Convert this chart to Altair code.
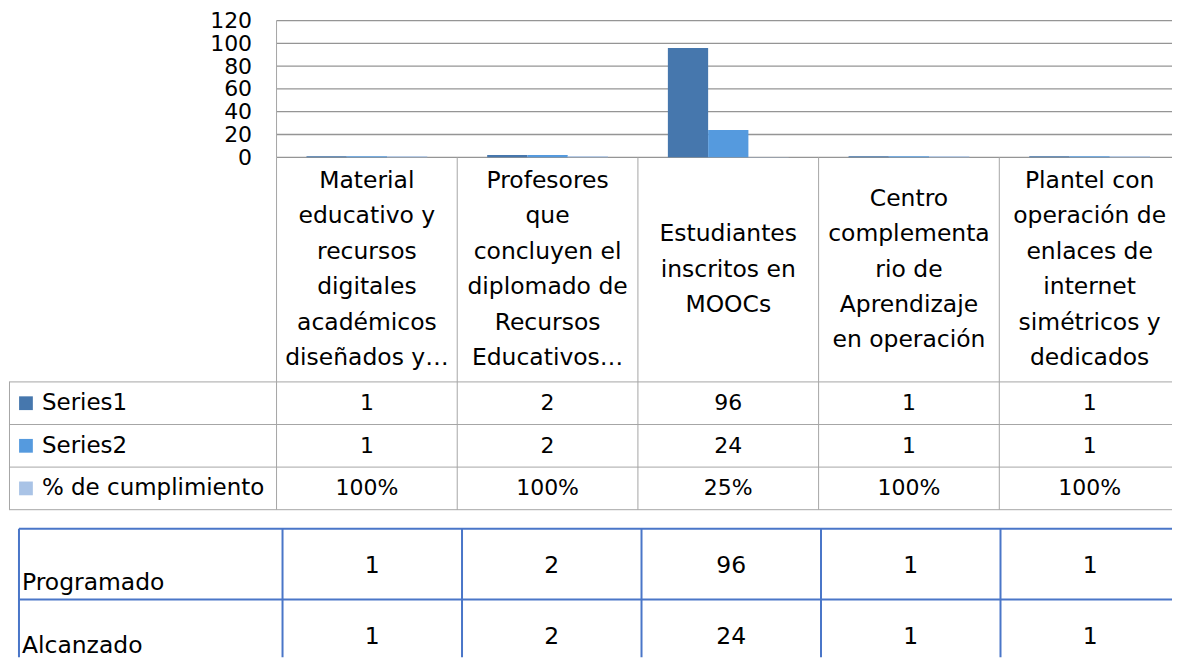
import altair as alt
import pandas as pd

# ---------------- data ----------------
category_lines = [
    ["Material", "educativo y", "recursos", "digitales", "académicos", "diseñados y…"],
    ["Profesores", "que", "concluyen el", "diplomado de", "Recursos", "Educativos…"],
    ["Estudiantes", "inscritos en", "MOOCs"],
    ["Centro", "complementa", "rio de", "Aprendizaje", "en operación"],
    ["Plantel con", "operación de", "enlaces de", "internet", "simétricos y", "dedicados"],
]
series_names = ["Series1", "Series2", "% de cumplimiento"]
series1 = [1, 2, 96, 1, 1]
series2 = [1, 2, 24, 1, 1]
cumplimiento = [1.0, 1.0, 0.25, 1.0, 1.0]
y_ticks = [0, 20, 40, 60, 80, 100, 120]

table2_rows = ["Programado", "Alcanzado"]
programado = [1, 2, 96, 1, 1]
alcanzado = [1, 2, 24, 1, 1]

# ---------------- tables built from the lists ----------------
cat_keys = ["\n".join(lines) for lines in category_lines]
series_values = [series1, series2, cumplimiento]
series_text = [
    [str(v) for v in series1],
    [str(v) for v in series2],
    [f"{round(v * 100)}%" for v in cumplimiento],
]

bar_df = pd.DataFrame(
    [{"cat": c, "series": s, "value": vals[i]}
     for s, vals in zip(series_names, series_values)
     for i, c in enumerate(cat_keys)]
)
cell_df = pd.DataFrame(
    [{"cat": c, "row": s, "label": txt[i]}
     for s, txt in zip(series_names, series_text)
     for i, c in enumerate(cat_keys)]
)
cat_df = pd.DataFrame({"cat": cat_keys, "half": [(len(l) - 1) / 2 for l in category_lines]})
row_df = pd.DataFrame({"row": series_names})
tick_df = pd.DataFrame({"tick": y_ticks})
t2_rows_df = pd.DataFrame({"row": table2_rows})
t2_df = pd.DataFrame(
    [{"cat": c, "row": r, "label": str(vals[i])}
     for r, vals in zip(table2_rows, [programado, alcanzado])
     for i, c in enumerate(cat_keys)]
)

# ---------------- layout / style ----------------
W = 1165
X0 = 268
XEND = 1173
H_BAR, H_CAT, H_TAB, H_T2 = 137, 225, 128, 148
LH = 35.5
GRAY = "#a6a6a6"
GRID = "#959595"
BLUE = "#4a76c8"
FONT = "DejaVu Sans"

colors = alt.Scale(domain=series_names, range=["#4677ad", "#559ade", "#a9c3e6"])
cat_scale = alt.Scale(type="band", domain=cat_keys, range=[X0, XEND], paddingInner=0, paddingOuter=0)
row_scale = alt.Scale(type="band", domain=series_names, paddingInner=0, paddingOuter=0)
cat_scale2 = alt.Scale(type="band", domain=cat_keys, range=[274, XEND], paddingInner=0, paddingOuter=0)
row_scale2 = alt.Scale(type="band", domain=table2_rows, range=[19, 161], paddingInner=0, paddingOuter=0)
yscale = alt.Scale(domain=[0, 120], nice=False)
y_axis = alt.Axis(values=y_ticks, grid=False, domain=False, ticks=False,
                  labelPadding=-243, labelAlign="right", labelBaseline="middle",
                  labelFontSize=22, labelColor="#000000", labelFont=FONT,
                  labelOverlap=False, title=None)

# ---------------- A: bar chart ----------------
grid = alt.Chart(tick_df).mark_rule(color=GRID, strokeWidth=1.3).encode(
    y=alt.Y("tick:Q", scale=yscale, axis=y_axis),
    x=alt.value(X0), x2=alt.value(W),
)
bars = alt.Chart(bar_df).mark_bar().encode(
    x=alt.X("cat:N", scale=cat_scale, axis=None),
    xOffset=alt.XOffset("series:N", scale=alt.Scale(domain=series_names, paddingInner=0, paddingOuter=0.744)),
    y=alt.Y("value:Q", scale=yscale, axis=y_axis),
    color=alt.Color("series:N", scale=colors, legend=None),
)
left_line = alt.Chart(cat_df.head(1)).mark_rule(color=GRAY, strokeWidth=1).encode(
    x=alt.X("cat:N", scale=cat_scale, bandPosition=0, axis=None),
    y=alt.value(0), y2=alt.value(H_BAR),
)
chart_a = alt.layer(grid, bars, left_line).properties(width=W, height=H_BAR)

# ---------------- B1: category labels ----------------
cat_text = alt.Chart(cat_df).mark_text(
    lineBreak="\n", fontSize=23.5, lineHeight=LH, baseline="middle", align="center", color="#000000"
).encode(
    x=alt.X("cat:N", scale=cat_scale, bandPosition=0.5, axis=None),
    y=alt.Y("half:Q", scale=alt.Scale(domain=[-H_CAT / 2 / LH, H_CAT / 2 / LH], nice=False, zero=False), axis=None),
    text="cat:N",
)
cat_vlines = alt.Chart(cat_df).mark_rule(color=GRAY, strokeWidth=1).encode(
    x=alt.X("cat:N", scale=cat_scale, bandPosition=0, axis=None),
    y=alt.value(0), y2=alt.value(H_CAT),
)
chart_b1 = alt.layer(cat_text, cat_vlines).properties(width=W, height=H_CAT)

# ---------------- B2: data table ----------------
cell_text = alt.Chart(cell_df).mark_text(fontSize=22, color="#000000").encode(
    x=alt.X("cat:N", scale=cat_scale, bandPosition=0.5, axis=None),
    y=alt.Y("row:N", scale=row_scale, bandPosition=0.5, axis=None),
    text="label:N",
)
h_top = alt.Chart(row_df).mark_rule(color=GRAY, strokeWidth=1).encode(
    y=alt.Y("row:N", scale=row_scale, bandPosition=0, axis=None),
    x=alt.value(0), x2=alt.value(W),
)
h_bottom = alt.Chart(row_df.tail(1)).mark_rule(color=GRAY, strokeWidth=1).encode(
    y=alt.Y("row:N", scale=row_scale, bandPosition=1, axis=None),
    x=alt.value(0), x2=alt.value(W),
)
tab_vlines = alt.Chart(cat_df).mark_rule(color=GRAY, strokeWidth=1).encode(
    x=alt.X("cat:N", scale=cat_scale, bandPosition=0, axis=None),
    y=alt.value(0), y2=alt.value(H_TAB),
)
tab_left = alt.Chart(row_df.head(1)).mark_rule(color=GRAY, strokeWidth=1).encode(
    x=alt.value(0.5), y=alt.value(0), y2=alt.value(H_TAB),
)
legend_sq = alt.Chart(row_df).mark_square(size=190, opacity=1).encode(
    x=alt.value(17),
    y=alt.Y("row:N", scale=row_scale, bandPosition=0.5, axis=None),
    color=alt.Color("row:N", scale=colors, legend=None),
)
legend_txt = alt.Chart(row_df).mark_text(fontSize=23, align="left", color="#000000").encode(
    x=alt.value(33),
    y=alt.Y("row:N", scale=row_scale, bandPosition=0.5, axis=None),
    text="row:N",
)
chart_b2 = alt.layer(h_top, h_bottom, tab_vlines, tab_left, legend_sq, legend_txt, cell_text).properties(
    width=W, height=H_TAB
)

# ---------------- C: second table ----------------
t2_h = alt.Chart(t2_rows_df).mark_rule(color=BLUE, strokeWidth=2, clip=True).encode(
    y=alt.Y("row:N", scale=row_scale2, bandPosition=0, axis=None),
    x=alt.value(10), x2=alt.value(W),
)
t2_v = alt.Chart(cat_df).mark_rule(color=BLUE, strokeWidth=2, clip=True).encode(
    x=alt.X("cat:N", scale=cat_scale2, bandPosition=0, axis=None),
    y=alt.value(19), y2=alt.value(H_T2),
)
t2_v_left = alt.Chart(t2_rows_df.head(1)).mark_rule(color=BLUE, strokeWidth=2, clip=True).encode(
    x=alt.value(10), y=alt.value(19), y2=alt.value(H_T2),
)
t2_label_top = alt.Chart(t2_rows_df.head(1)).mark_text(fontSize=23.5, align="left", color="#000000", clip=True).encode(
    x=alt.value(13),
    y=alt.Y("row:N", scale=row_scale2, bandPosition=0.76, axis=None),
    text="row:N",
)
t2_label_bottom = alt.Chart(t2_rows_df.tail(1)).mark_text(fontSize=23.5, align="left", color="#000000", clip=True).encode(
    x=alt.value(13),
    y=alt.Y("row:N", scale=row_scale2, bandPosition=0.65, axis=None),
    text="row:N",
)
t2_values = alt.Chart(t2_df).mark_text(fontSize=23.5, color="#000000", clip=True).encode(
    x=alt.X("cat:N", scale=cat_scale2, bandPosition=0.5, axis=None),
    y=alt.Y("row:N", scale=row_scale2, bandPosition=0.53, axis=None),
    text="label:N",
)
chart_c = alt.layer(t2_h, t2_v, t2_v_left, t2_label_top, t2_label_bottom, t2_values).properties(
    width=W, height=H_T2
)

chart = (
    alt.vconcat(chart_a, chart_b1, chart_b2, chart_c, spacing=0, bounds="flush")
    .resolve_scale(x="independent", y="independent", color="independent")
    .properties(padding={"left": 0, "top": 1, "right": 0, "bottom": 0})
    .configure(font=FONT)
    .configure_view(stroke="transparent", strokeWidth=0)
)

chart.save("out.html", embed_options={"renderer": "svg", "actions": False})
